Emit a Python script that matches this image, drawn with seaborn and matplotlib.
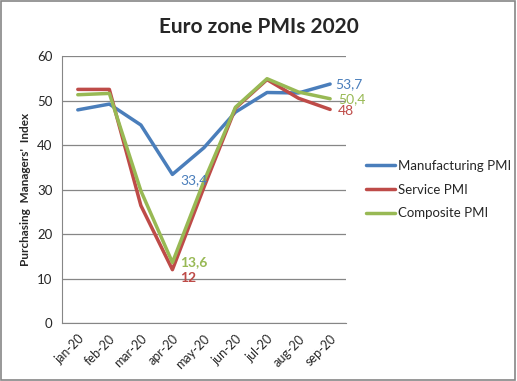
import pandas as pd
import seaborn as sns
import matplotlib.pyplot as plt

# values
months = ["jan-20", "feb-20", "mar-20", "apr-20", "may-20", "jun-20", "jul-20", "aug-20", "sep-20"]
manufacturing = [47.9, 49.2, 44.5, 33.4, 39.4, 47.4, 51.8, 51.7, 53.7]
service = [52.5, 52.5, 26.4, 12.0, 30.5, 48.3, 54.7, 50.5, 48.0]
composite = [51.3, 51.6, 29.7, 13.6, 31.9, 48.5, 54.9, 51.9, 50.4]
series_names = ["Manufacturing PMI", "Service PMI", "Composite PMI"]
colors = ["#4A7EBB", "#BE4B48", "#98B954"]

df = pd.DataFrame({"Month": months,
                   series_names[0]: manufacturing,
                   series_names[1]: service,
                   series_names[2]: composite})
long_df = df.melt(id_vars="Month", var_name="Series", value_name="PMI")
long_df["x"] = long_df["Month"].map({m: i for i, m in enumerate(months)})

sns.set_style("white")
plt.rcParams["font.family"] = ["Lato", "DejaVu Sans"]

fig = plt.figure(figsize=(5.17, 3.81), dpi=100)
ax = fig.add_axes([0.12, 0.152, 0.549, 0.701])

sns.lineplot(data=long_df, x="x", y="PMI", hue="Series", palette=colors,
             linewidth=2.5, ax=ax)

# data labels like in the excel chart
ax.text(3 + 0.25, manufacturing[3], "33,4", color=colors[0], fontsize=10, va="top")
ax.text(3 + 0.25, service[3] - 0.5, "12", color=colors[1], fontsize=10, va="top", fontweight="bold")
ax.text(3 + 0.25, composite[3], "13,6", color=colors[2], fontsize=10, va="center", fontweight="bold")
ax.text(8 + 0.15, manufacturing[8], "53,7", color=colors[0], fontsize=10, va="center")
ax.text(8 + 0.25, composite[8], "50,4", color=colors[2], fontsize=10, va="center")
ax.text(8 + 0.25, service[8] - 0.3, "48", color=colors[1], fontsize=10, va="center")

ax.set_xlim(-0.5, len(months) - 0.5)
ax.set_ylim(0, 60)
ax.set_yticks(range(0, 61, 10))
ax.set_xticks(range(len(months)))
ax.set_xticklabels(months, rotation=45, ha="right", rotation_mode="anchor", fontsize=9)
ax.tick_params(axis="y", labelsize=9.5)
ax.yaxis.grid(True, color="#868686", linewidth=0.9)
ax.set_axisbelow(True)
for side in ["top", "right"]:
    ax.spines[side].set_visible(False)
for side in ["left", "bottom"]:
    ax.spines[side].set_color("#868686")
ax.set_xlabel("")
ax.set_ylabel("Purchasing  Managers'  Index", fontsize=8.5, fontweight="bold")

fig.suptitle("Euro zone PMIs 2020", x=0.5, y=0.955, fontsize=15, fontweight="bold")

leg = ax.legend(loc="center left", bbox_to_anchor=(1.03, 0.5), frameon=False,
                fontsize=9.5, handlelength=2.2, handletextpad=0.2, labelspacing=0.9)
for line in leg.get_lines():
    line.set_linewidth(2.5)

# grey frame around the whole chart
fig.patches.append(plt.Rectangle((0.002, 0.003), 0.995, 0.994, transform=fig.transFigure,
                                 fill=False, edgecolor="#868686", linewidth=1.2))

fig.savefig("out.png", dpi=100)
